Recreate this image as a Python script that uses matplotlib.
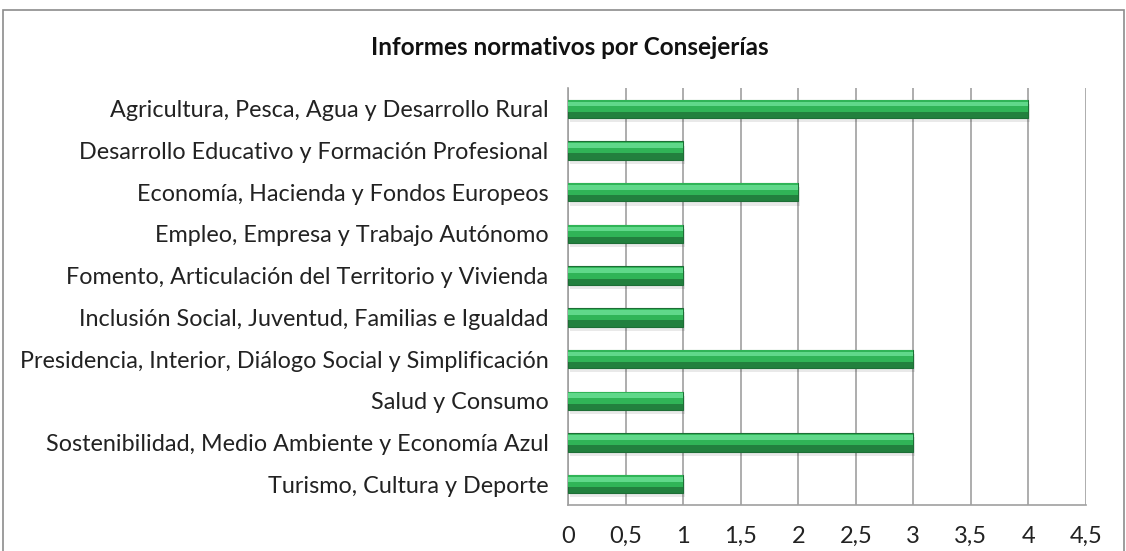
import matplotlib
matplotlib.use("Agg")
import matplotlib.pyplot as plt
import matplotlib.patches as mpatches
import numpy as np

# ── Data ───────────────────────────────────────────────────────────────────
consejerias = [
    "Agricultura, Pesca, Agua y Desarrollo Rural",
    "Desarrollo Educativo y Formación Profesional",
    "Economía, Hacienda y Fondos Europeos",
    "Empleo, Empresa y Trabajo Autónomo",
    "Fomento, Articulación del Territorio y Vivienda",
    "Inclusión Social, Juventud, Familias e Igualdad",
    "Presidencia, Interior, Diálogo Social y Simplificación",
    "Salud y Consumo",
    "Sostenibilidad, Medio Ambiente y Economía Azul",
    "Turismo, Cultura y Deporte",
]
informes = [4, 1, 2, 1, 1, 1, 3, 1, 3, 1]
xticks = [0, 0.5, 1, 1.5, 2, 2.5, 3, 3.5, 4, 4.5]
xtick_labels = ["0", "0,5", "1", "1,5", "2", "2,5", "3", "3,5", "4", "4,5"]

plt.rcParams["font.family"] = ["Lato", "DejaVu Sans"]

fig = plt.figure(figsize=(11.26, 5.51), dpi=100, facecolor="white")
ax = fig.add_axes([0.5044, 0.0835, 0.4601, 0.7568])

# outer chart frame
fig.patches.append(mpatches.Rectangle(
    (3 / 1126, -0.05), 1121 / 1126, 1.05 - 10 / 551,
    transform=fig.transFigure, fill=False, edgecolor="#8c8c8c",
    linewidth=1.2, zorder=0))

y = np.arange(len(consejerias))
h = 0.44

# shadow, base, body and highlight layers for the bevelled look
ax.barh(y + 0.1, informes, height=h, left=0.015, color="#00000016",
        linewidth=0, zorder=2)
ax.barh(y, informes, height=h, color="#22803e", edgecolor="#1d6e36",
        linewidth=0.8, zorder=3)
ax.barh(y - 0.16 * h, informes, height=0.64 * h, color="#30b457",
        linewidth=0, zorder=4)
ax.barh(y - 0.27 * h, informes, height=0.26 * h, color="#60d88a",
        linewidth=0, zorder=5)

ax.set_xlim(0, 4.5)
ax.set_ylim(len(consejerias) - 0.5, -0.5)
ax.set_xticks(xticks)
ax.set_xticklabels(xtick_labels, fontsize=17, color="#222222")
ax.set_yticks(y)
ax.set_yticklabels(consejerias, fontsize=16.8, color="#222222")
ax.tick_params(axis="x", length=0, pad=15)
ax.tick_params(axis="y", length=0, pad=14)

ax.grid(axis="x", color="#a0a0a0", linewidth=1.2, zorder=1)
ax.set_axisbelow(True)
for s in ["top", "right"]:
    ax.spines[s].set_visible(False)
ax.spines["left"].set_color("#a0a0a0")
ax.spines["left"].set_linewidth(1.2)
ax.spines["bottom"].set_color("#a0a0a0")
ax.spines["bottom"].set_linewidth(1.2)

fig.text(0.506, 0.913, "Informes normativos por Consejerías", ha="center",
         va="center", fontsize=17.5, fontweight="bold", color="#111111")

fig.savefig("out.png", dpi=100, facecolor="white")
